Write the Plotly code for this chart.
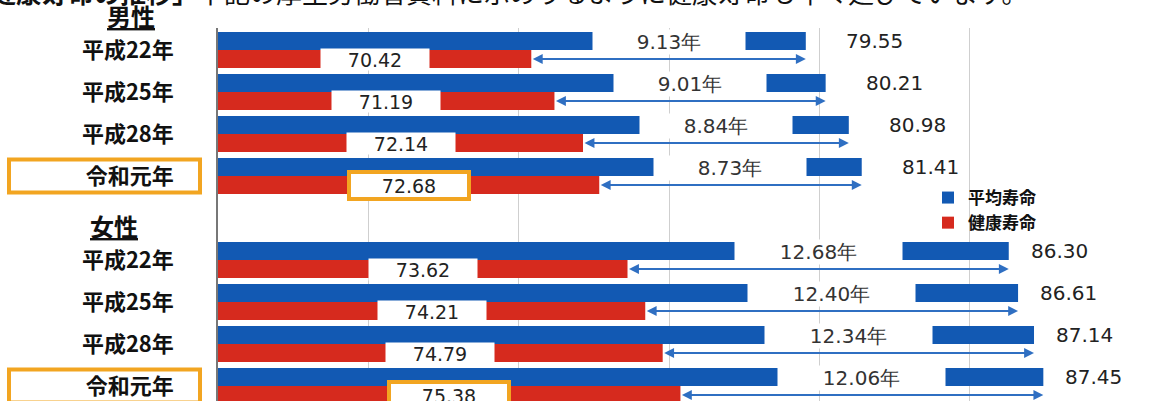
import plotly.graph_objects as go

# ---- data ----
categories = ["平成22年", "平成25年", "平成28年", "令和元年"]
male_avg = [79.55, 80.21, 80.98, 81.41]
male_healthy = [70.42, 71.19, 72.14, 72.68]
male_gap = ["9.13年", "9.01年", "8.84年", "8.73年"]
female_avg = [86.30, 86.61, 87.14, 87.45]
female_healthy = [73.62, 74.21, 74.79, 75.38]
female_gap = ["12.68年", "12.40年", "12.34年", "12.06年"]
group_titles = ["男性", "女性"]
series_names = ["平均寿命", "健康寿命"]
header_text = "<b>健康寿命の推移」</b>下記の厚生労働省資料に示めりるように健康寿命も年々延びています。"

# ---- layout constants ----
W, H = 1157, 401
ML, MR, MT, MB = 218, 37, 28, 0
X_MIN, X_MAX = 60, 90
BLUE = "#1259b3"
RED = "#d62a1e"
ORANGE = "#f2a521"
ARROW = "#2f6fc2"
NUM_FONT = "DejaVu Sans"
JP_FONT = "Noto Sans CJK JP"

male_pos = list(range(len(categories)))
female_pos = [p + len(categories) + 1 for p in male_pos]
ypos = male_pos + female_pos
avg = male_avg + female_avg
healthy = male_healthy + female_healthy
gaps = male_gap + female_gap
labels = categories + categories

plot_h = H - MT - MB
slot_px = 42.0
y_top = -(50 - MT) / slot_px
y_bot = y_top + plot_h / slot_px
bar_off = 0.2143


def px_to_paper_x(px):
    return (px - ML) / (W - ML - MR)


def px_to_paper_y(py):
    return 1 - (py - MT) / plot_h


fig = go.Figure()
fig.add_trace(go.Bar(x=avg, y=ypos, orientation="h", name=series_names[0],
                     marker=dict(color=BLUE, line=dict(width=0))))
fig.add_trace(go.Bar(x=healthy, y=ypos, orientation="h", name=series_names[1],
                     marker=dict(color=RED, line=dict(width=0))))

annotations = []
shapes = []
for i, (p, a, h, g) in enumerate(zip(ypos, avg, healthy, gaps)):
    is_last = (i % len(categories)) == len(categories) - 1
    female = i >= len(categories)
    # double arrow between healthy and average
    annotations.append(dict(x=a, y=p + bar_off, ax=h, ay=p + bar_off,
                            xref="x", yref="y", axref="x", ayref="y",
                            text="", showarrow=True, arrowside="end+start",
                            arrowhead=2, arrowsize=1.1, arrowwidth=1.8,
                            arrowcolor=ARROW, standoff=0, startstandoff=0))
    # gap label
    annotations.append(dict(x=(a + h) / 2, y=p - bar_off + 0.03, xref="x", yref="y",
                            text=g, showarrow=False, bgcolor="white",
                            width=165 if female else 150, height=22,
                            font=dict(family=NUM_FONT, size=20, color="#333")))
    # healthy value label
    ann = dict(x=(X_MIN + h) / 2, y=p + bar_off, xref="x", yref="y",
               text=f"{h:.2f}", showarrow=False, bgcolor="white",
               width=106, height=19,
               font=dict(family=NUM_FONT, size=19, color="#222"))
    if is_last:
        ann.update(bordercolor=ORANGE, borderwidth=4, borderpad=2, width=112)
    annotations.append(ann)
    # average value label
    annotations.append(dict(x=a, y=p - bar_off, xref="x", yref="y",
                            text=f"{a:.2f}", showarrow=False, xanchor="left",
                            xshift=20 if female else 38,
                            font=dict(family=NUM_FONT, size=20, color="#222")))
    if is_last:
        shapes.append(dict(type="rect", xref="paper", yref="y",
                           x0=px_to_paper_x(9), x1=px_to_paper_x(200),
                           y0=p - 0.39, y1=p + 0.39,
                           line=dict(color=ORANGE, width=4), fillcolor="rgba(0,0,0,0)",
                           layer="below"))

# cropped header line of the document
annotations.append(dict(x=px_to_paper_x(-12), y=px_to_paper_y(-8), xref="paper", yref="paper",
                        xanchor="left", yanchor="middle", text=header_text, showarrow=False,
                        font=dict(family=JP_FONT, size=26, color="#111")))
# group titles
annotations.append(dict(x=px_to_paper_x(105), y=px_to_paper_y(16), xref="paper", yref="paper",
                        yanchor="middle",
                        text=f"<b><u>{group_titles[0]}</u></b>", showarrow=False,
                        font=dict(family=JP_FONT, size=24, color="#111")))
annotations.append(dict(x=px_to_paper_x(88), y=(male_pos[-1] + female_pos[0]) / 2 + 0.17,
                        xref="paper", yref="y",
                        text=f"<b><u>{group_titles[1]}</u></b>", showarrow=False,
                        font=dict(family=JP_FONT, size=24, color="#111")))

fig.update_layout(
    width=W, height=H,
    margin=dict(l=ML, r=MR, t=MT, b=MB, pad=0),
    paper_bgcolor="white", plot_bgcolor="white",
    barmode="group", bargap=0.143, bargroupgap=0,
    showlegend=True,
    legend=dict(x=px_to_paper_x(928), y=px_to_paper_y(180), xanchor="left", yanchor="top",
                bgcolor="rgba(0,0,0,0)", traceorder="normal", tracegroupgap=0,
                itemwidth=30,
                font=dict(family=JP_FONT, size=17, color="#111", weight="bold")),
    xaxis=dict(range=[X_MIN, X_MAX], dtick=5, tick0=X_MIN, showgrid=True,
               gridcolor="#cfcfcf", gridwidth=1, showticklabels=False,
               zeroline=False, showline=False, fixedrange=True),
    yaxis=dict(range=[y_bot, y_top], tickvals=ypos, ticktext=labels,
               showgrid=False, zeroline=False, showline=True, linecolor="#777",
               linewidth=1.5, ticks="", ticklabelstandoff=38,
               tickfont=dict(family=JP_FONT, size=22, color="#111", weight="bold")),
    annotations=annotations,
    shapes=shapes,
)

fig.write_html("out.html", config={"displayModeBar": False},
               post_script="document.body.style.margin='0';document.documentElement.style.overflow='hidden';")
